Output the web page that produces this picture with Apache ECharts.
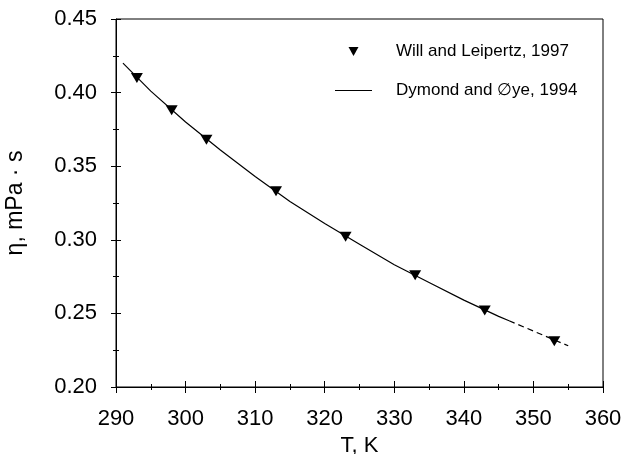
<!DOCTYPE html>
<html>
<head>
<meta charset="utf-8">
<script src="https://cdn.jsdelivr.net/npm/echarts@6/dist/echarts.min.js"></script>
<style>
html,body{margin:0;padding:0;background:#fff;}
#chart{width:623px;height:454px;}
</style>
</head>
<body>
<div id="chart"></div>
<script>
// Experimental points (Will and Leipertz, 1997)
const T_exp = [293, 298, 303, 313, 323, 333, 343, 353];
const eta_exp = [0.410, 0.388, 0.368, 0.333, 0.302, 0.276, 0.252, 0.231];
// Correlation curve (Dymond and Oye, 1994), solid part
const T_fit = [291, 295, 300, 305, 310, 315, 320, 325, 330, 335, 340, 345, 346.5];
const eta_fit = [0.420, 0.401, 0.380, 0.361, 0.343, 0.326, 0.311, 0.297, 0.283, 0.271, 0.259, 0.248, 0.245];
// Extrapolated (dashed) part
const T_ext = [346.5, 350, 355];
const eta_ext = [0.245, 0.238, 0.228];

const seriesNames = ['Will and Leipertz, 1997', 'Dymond and \u2205ye, 1994'];
const xTitle = 'T, K';
const yTitle = '\u03B7, mPa \u00B7 s';

const FONT = 'Liberation Sans, Arial, sans-serif';
const pairs = (xs, ys) => xs.map((x, i) => [x, ys[i]]);

const chart = echarts.init(document.getElementById('chart'), null, {renderer: 'canvas'});

const xBase = {type: 'value', min: 290, max: 360, interval: 10, gridIndex: 0};
const yBase = {type: 'value', min: 0.20, max: 0.45, interval: 0.05, gridIndex: 0};

chart.setOption({
  animation: false,
  backgroundColor: '#fff',
  grid: {
    left: 116, right: 20, top: 19, bottom: 67,
    containLabel: false, outerBoundsMode: 'none',
    show: true, borderColor: '#000', borderWidth: 1, backgroundColor: 'transparent'
  },
  legend: {
    data: [
      {name: seriesNames[0], icon: 'path://M0,0L10,0L5,9Z'},
      {name: seriesNames[1], icon: 'path://M0,0L37,0L37,1.2L0,1.2Z'}
    ],
    orient: 'vertical',
    left: 330, top: 38,
    itemWidth: 37, itemHeight: 9,
    itemGap: 22,
    textStyle: {fontFamily: FONT, fontSize: 17, color: '#000', padding: [0, 0, 0, 19]},
    selectedMode: false
  },
  xAxis: [
    Object.assign({}, xBase, {
      position: 'bottom',
      name: xTitle, nameLocation: 'middle', nameGap: 48,
      nameTextStyle: {fontFamily: FONT, fontSize: 22, color: '#000'},
      axisLine: {show: true, onZero: false, lineStyle: {color: '#000', width: 1}},
      axisTick: {show: true, inside: false, length: 6, lineStyle: {color: '#000'}},
      minorTick: {show: true, splitNumber: 2, length: 3, lineStyle: {color: '#000'}},
      axisLabel: {fontFamily: FONT, fontSize: 22, color: '#000', margin: 21},
      splitLine: {show: false}
    }),
    Object.assign({}, xBase, {
      position: 'bottom', offset: 0,
      axisLine: {show: false, onZero: false},
      axisTick: {show: true, inside: true, length: 6, lineStyle: {color: '#000'}},
      minorTick: {show: true, splitNumber: 2, length: 3, lineStyle: {color: '#000'}},
      axisLabel: {show: false},
      splitLine: {show: false}
    })
  ],
  yAxis: [
    Object.assign({}, yBase, {
      position: 'left',
      name: yTitle, nameLocation: 'middle', nameGap: 89,
      nameTextStyle: {fontFamily: FONT, fontSize: 23, color: '#000'},
      axisLine: {show: true, onZero: false, lineStyle: {color: '#000', width: 1}},
      axisTick: {show: true, inside: false, length: 5, lineStyle: {color: '#000'}},
      minorTick: {show: true, splitNumber: 2, length: 3, lineStyle: {color: '#000'}},
      axisLabel: {fontFamily: FONT, fontSize: 22, color: '#000', margin: 19,
        formatter: v => v.toFixed(2)},
      splitLine: {show: false}
    }),
    Object.assign({}, yBase, {
      position: 'left', offset: 0,
      axisLine: {show: false, onZero: false},
      axisTick: {show: true, inside: true, length: 5, lineStyle: {color: '#000'}},
      minorTick: {show: true, splitNumber: 2, length: 3, lineStyle: {color: '#000'}},
      axisLabel: {show: false},
      splitLine: {show: false}
    })
  ],
  series: [
    {
      name: seriesNames[1],
      type: 'line',
      data: pairs(T_fit, eta_fit),
      showSymbol: false, symbol: 'none',
      lineStyle: {color: '#000', width: 1.2},
      itemStyle: {color: '#000'},
      z: 2
    },
    {
      name: 'extrapolation',
      type: 'line',
      data: pairs(T_ext, eta_ext),
      showSymbol: false, symbol: 'none',
      lineStyle: {color: '#000', width: 1.2, type: [6, 4]},
      itemStyle: {color: '#000'},
      z: 2
    },
    {
      name: seriesNames[0],
      type: 'scatter',
      data: pairs(T_exp, eta_exp),
      symbol: 'triangle', symbolRotate: 180,
      symbolSize: [12, 10],
      itemStyle: {color: '#000', opacity: 1},
      z: 3
    }
  ]
});
</script>
</body>
</html>
